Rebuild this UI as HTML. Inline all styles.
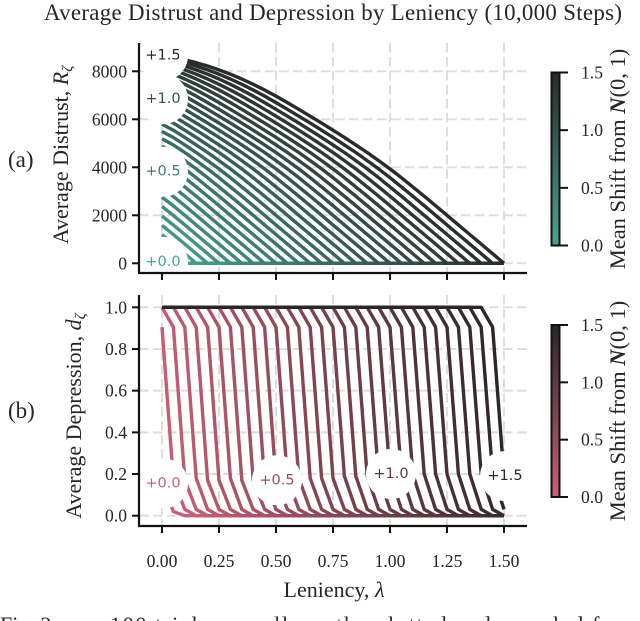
<!DOCTYPE html>
<html><head><meta charset="utf-8"><title>Average Distrust and Depression by Leniency</title>
<style>
html,body{margin:0;padding:0;background:#fff;width:640px;height:621px;overflow:hidden}
svg{display:block}
text{font-family:"Liberation Serif",serif;fill:#262626}
.tick{font-size:17.6px}
.lab{font-size:22px}
.curve-label{font-family:"DejaVu Sans",sans-serif;font-size:14.5px;text-anchor:middle;dominant-baseline:central}
</style></head><body>
<svg id="fig" xmlns="http://www.w3.org/2000/svg" width="640" height="621" viewBox="0 0 640 621">
<defs>
<linearGradient id="tealGrad" x1="0" y1="1" x2="0" y2="0"><stop offset="0" stop-color="#47a592"/><stop offset="1" stop-color="#2a2a2a"/></linearGradient>
<linearGradient id="pinkGrad" x1="0" y1="1" x2="0" y2="0"><stop offset="0" stop-color="#cb5f7a"/><stop offset="1" stop-color="#2b2627"/></linearGradient>
</defs>
<text x="333" y="20" text-anchor="middle" font-size="22.9" textLength="578" lengthAdjust="spacing">Average Distrust and Depression by Leniency (10,000 Steps)</text>
<text x="8" y="167" font-size="23">(a)</text>
<text x="8" y="418" font-size="23">(b)</text>
<g id="gridTop"></g>
<g id="gridBot"></g>
<g id="linesTop"></g>
<g id="linesBot"></g>
<g id="labelsTop"></g>
<g id="labelsBot"></g>
<g id="axesTop"></g>
<g id="axesBot"></g>
<text class="lab" transform="translate(68,155) rotate(-90)" text-anchor="middle">Average Distrust, <tspan font-style="italic">R</tspan><tspan font-style="italic" font-size="15" dy="4">ζ</tspan></text>
<text class="lab" transform="translate(81,416) rotate(-90)" text-anchor="middle">Average Depression, <tspan font-style="italic">d</tspan><tspan font-style="italic" font-size="15" dy="4">ζ</tspan></text>
<text class="lab" x="334" y="597" text-anchor="middle">Leniency, <tspan font-style="italic">λ</tspan></text>
<rect x="551.5" y="72.5" width="8" height="173" fill="url(#tealGrad)" stroke="#111" stroke-width="2"/>
<rect x="551.5" y="325" width="8" height="172" fill="url(#pinkGrad)" stroke="#111" stroke-width="2"/>
<g id="cbTicks"></g>
<text font-size="22.5" transform="translate(625,159) rotate(-90)" text-anchor="middle">Mean Shift from <tspan font-style="italic" font-weight="bold">N</tspan>(0, 1)</text>
<text font-size="22.5" transform="translate(625,411) rotate(-90)" text-anchor="middle">Mean Shift from <tspan font-style="italic" font-weight="bold">N</tspan>(0, 1)</text>
<text font-size="22" y="632"><tspan x="0">Fig. 2:</tspan><tspan x="110" textLength="530" lengthAdjust="spacing">100 trials overall are the plotted and sampled from</tspan></text>
</svg>
<script>
const lambdaGrid = [0,0.05,0.1,0.15,0.2,0.25,0.3,0.35,0.4,0.45,0.5,0.55,0.6,0.65,0.7,0.75,0.8,0.85,0.9,0.95,1,1.05,1.1,1.15,1.2,1.25,1.3,1.35,1.4,1.45,1.5];
const meanShifts = [0,0.05,0.1,0.15,0.2,0.25,0.3,0.35,0.4,0.45,0.5,0.55,0.6,0.65,0.7,0.75,0.8,0.85,0.9,0.95,1,1.05,1.1,1.15,1.2,1.25,1.3,1.35,1.4,1.45,1.5];
const xTickValues = [0,0.25,0.5,0.75,1,1.25,1.5];
const xTickLabels = ["0.00","0.25","0.50","0.75","1.00","1.25","1.50"];
const distrustTicks = [0,2000,4000,6000,8000];
const depressionTicks = [0,0.2,0.4,0.6,0.8,1];
const depressionTickLabels = ["0.0","0.2","0.4","0.6","0.8","1.0"];
const colorbarTicks = ["0.0","0.5","1.0","1.5"];
const labelShifts = [0,0.5,1,1.5];
const labelTexts = ["+0.0","+0.5","+1.0","+1.5"];
const distrustLabelLambda = [0,0,0,0];
const distrustLabelValue = [60,3815,6840,8650];
const depressionLabelLambda = [0,0.5,1,1.5];
const depressionLabelValue = [0.155,0.17,0.2,0.19];
const distrustRows = [
[0],
[400,0],
[790,400,0],
[1190,800,400,0],
[1585,1195,800,400,0],
[1975,1590,1200,800,400,0],
[2370,1990,1600,1200,800,400,0],
[2760,2390,2000,1600,1200,800,400,0],
[3150,2785,2400,2000,1600,1200,800,400,0],
[3520,3175,2795,2400,2000,1600,1200,800,400,0],
[3815,3550,3185,2795,2400,2000,1600,1200,800,400,0],
[4220,3920,3565,3185,2795,2400,2000,1600,1200,800,400,0],
[4550,4270,3935,3565,3185,2795,2400,2000,1600,1200,800,400,0],
[4880,4610,4280,3935,3565,3185,2795,2400,2000,1600,1200,800,400,0],
[5190,4930,4615,4280,3935,3565,3185,2795,2400,2000,1600,1200,800,400,0],
[5490,5240,4935,4615,4280,3935,3565,3185,2795,2400,2000,1600,1200,800,400,0],
[5790,5545,5245,4935,4615,4280,3935,3565,3185,2795,2400,2000,1600,1200,800,400,0],
[6080,5840,5545,5245,4935,4615,4280,3935,3565,3185,2795,2400,2000,1600,1200,800,400,0],
[6360,6130,5840,5545,5245,4935,4615,4280,3935,3565,3185,2795,2400,2000,1600,1200,800,400,0],
[6620,6415,6130,5840,5545,5245,4935,4615,4280,3935,3565,3185,2795,2400,2000,1600,1200,800,400,0],
[6840,6695,6415,6130,5840,5545,5245,4935,4615,4280,3935,3565,3185,2795,2400,2000,1600,1200,800,400,0],
[7180,6965,6695,6415,6130,5840,5545,5245,4935,4615,4280,3935,3565,3185,2795,2400,2000,1600,1200,800,400,0],
[7430,7220,6965,6695,6415,6130,5840,5545,5245,4935,4615,4280,3935,3565,3185,2795,2400,2000,1600,1200,800,400,0],
[7650,7460,7220,6965,6695,6415,6130,5840,5545,5245,4935,4615,4280,3935,3565,3185,2795,2400,2000,1600,1200,800,400,0],
[7850,7680,7460,7220,6965,6695,6415,6130,5840,5545,5245,4935,4615,4280,3935,3565,3185,2795,2400,2000,1600,1200,800,400,0],
[8030,7880,7680,7460,7220,6965,6695,6415,6130,5840,5545,5245,4935,4615,4280,3935,3565,3185,2795,2400,2000,1600,1200,800,400,0],
[8190,8060,7880,7680,7460,7220,6965,6695,6415,6130,5840,5545,5245,4935,4615,4280,3935,3565,3185,2795,2400,2000,1600,1200,800,400,0],
[8340,8220,8060,7880,7680,7460,7220,6965,6695,6415,6130,5840,5545,5245,4935,4615,4280,3935,3565,3185,2795,2400,2000,1600,1200,800,400,0],
[8470,8360,8220,8060,7880,7680,7460,7220,6965,6695,6415,6130,5840,5545,5245,4935,4615,4280,3935,3565,3185,2795,2400,2000,1600,1200,800,400,0],
[8570,8480,8360,8220,8060,7880,7680,7460,7220,6965,6695,6415,6130,5840,5545,5245,4935,4615,4280,3935,3565,3185,2795,2400,2000,1600,1200,800,400,0],
[8650,8575,8480,8360,8220,8060,7880,7680,7460,7220,6965,6695,6415,6130,5840,5545,5245,4935,4615,4280,3935,3565,3185,2795,2400,2000,1600,1200,800,400,0]
];
const depressionRows = [
[0.155,0.02,0],
[0.905,0.17,0.03,0],
[1,0.905,0.17,0.03,0],
[1,1,0.905,0.18,0.03,0],
[1,1,1,0.905,0.17,0.03,0],
[1,1,1,1,0.905,0.17,0.03,0],
[1,1,1,1,1,0.905,0.18,0.03,0],
[1,1,1,1,1,1,0.905,0.17,0.03,0],
[1,1,1,1,1,1,1,0.905,0.17,0.03,0],
[1,1,1,1,1,1,1,1,0.905,0.17,0.03,0],
[1,1,1,1,1,1,1,1,1,0.905,0.17,0.03,0],
[1,1,1,1,1,1,1,1,1,1,0.905,0.18,0.03,0],
[1,1,1,1,1,1,1,1,1,1,1,0.905,0.18,0.03,0],
[1,1,1,1,1,1,1,1,1,1,1,1,0.905,0.18,0.03,0],
[1,1,1,1,1,1,1,1,1,1,1,1,1,0.905,0.18,0.03,0],
[1,1,1,1,1,1,1,1,1,1,1,1,1,1,0.905,0.18,0.03,0],
[1,1,1,1,1,1,1,1,1,1,1,1,1,1,1,0.905,0.19,0.03,0],
[1,1,1,1,1,1,1,1,1,1,1,1,1,1,1,1,0.905,0.19,0.03,0],
[1,1,1,1,1,1,1,1,1,1,1,1,1,1,1,1,1,0.905,0.19,0.03,0],
[1,1,1,1,1,1,1,1,1,1,1,1,1,1,1,1,1,1,0.905,0.19,0.03,0],
[1,1,1,1,1,1,1,1,1,1,1,1,1,1,1,1,1,1,1,0.905,0.2,0.03,0],
[1,1,1,1,1,1,1,1,1,1,1,1,1,1,1,1,1,1,1,1,0.905,0.2,0.03,0],
[1,1,1,1,1,1,1,1,1,1,1,1,1,1,1,1,1,1,1,1,1,0.905,0.2,0.03,0],
[1,1,1,1,1,1,1,1,1,1,1,1,1,1,1,1,1,1,1,1,1,1,0.905,0.2,0.03,0],
[1,1,1,1,1,1,1,1,1,1,1,1,1,1,1,1,1,1,1,1,1,1,1,0.905,0.2,0.03,0],
[1,1,1,1,1,1,1,1,1,1,1,1,1,1,1,1,1,1,1,1,1,1,1,1,0.905,0.2,0.03,0],
[1,1,1,1,1,1,1,1,1,1,1,1,1,1,1,1,1,1,1,1,1,1,1,1,1,0.905,0.2,0.03,0],
[1,1,1,1,1,1,1,1,1,1,1,1,1,1,1,1,1,1,1,1,1,1,1,1,1,1,0.905,0.2,0.03,0],
[1,1,1,1,1,1,1,1,1,1,1,1,1,1,1,1,1,1,1,1,1,1,1,1,1,1,1,0.905,0.2,0.03],
[1,1,1,1,1,1,1,1,1,1,1,1,1,1,1,1,1,1,1,1,1,1,1,1,1,1,1,1,0.905,0.2,0.03],
[1,1,1,1,1,1,1,1,1,1,1,1,1,1,1,1,1,1,1,1,1,1,1,1,1,1,1,1,1,0.905,0.19]
];

const NS = 'http://www.w3.org/2000/svg';
function make(tag, attrs, parent, txt){
  const e = document.createElementNS(NS, tag);
  for (const k in attrs) e.setAttribute(k, attrs[k]);
  if (txt !== undefined) e.textContent = txt;
  parent.appendChild(e);
  return e;
}
const $ = id => document.getElementById(id);
const xScale = v => 162 + v * 228;
const yTop = v => 263.3 - v * 0.024;
const yBot = v => 515.7 - v * 208.4;
function mix(a, b, t){
  const c = a.map((v, i) => Math.round(v + (b[i] - v) * t));
  return 'rgb(' + c.join(',') + ')';
}
const teal = s => mix([71,165,146], [42,42,42], s / 1.5);
const pink = s => mix([203,95,122], [43,38,39], s / 1.5);
const frames = {
  top: {y0: 43, y1: 273},
  bot: {y0: 295, y1: 526}
};
function drawGrid(g, frame, yVals, y){
  xTickValues.forEach(v => {
    const l = make('line', {x1: xScale(v), x2: xScale(v), y1: frame.y0, y2: frame.y1, stroke: '#dedede', 'stroke-width': 2, 'stroke-dasharray': '9.5,4.5'}, g);
    
    
  });
  yVals.forEach(v => {
    const l = make('line', {x1: 139, x2: 527, y1: y(v), y2: y(v), stroke: '#dedede', 'stroke-width': 2, 'stroke-dasharray': '9.5,4.5'}, g);
    
    
  });
}
drawGrid($('gridTop'), frames.top, distrustTicks, yTop);
drawGrid($('gridBot'), frames.bot, depressionTicks, yBot);
function drawLines(g, rows, y, colour){
  rows.forEach((row, i) => {
    const d = lambdaGrid.map((l, j) => (j ? 'L' : 'M') + xScale(l).toFixed(1) + ' ' + y(row[j] === undefined ? 0 : row[j]).toFixed(1)).join('');
    const p = make('path', {d: d, fill: 'none', stroke: colour(meanShifts[i]), 'stroke-width': 3.4, 'stroke-linejoin': 'round'}, g);
    
    
  });
}
drawLines($('linesTop'), distrustRows, yTop, teal);
drawLines($('linesBot'), depressionRows, yBot, pink);
function drawLabels(g, lams, vals, y, colour){
  labelTexts.forEach((t, i) => {
    const cx = xScale(lams[i]) + 1, cy = y(vals[i]);
    const c = make('circle', {cx: cx, cy: cy, r: 25, fill: '#fff'}, g);
    
    
    const e = make('text', {x: cx, y: cy, class: 'curve-label', style: 'fill:' + colour(labelShifts[i])}, g, t);
    
    
  });
}
drawLabels($('labelsTop'), distrustLabelLambda, distrustLabelValue, yTop, teal);
drawLabels($('labelsBot'), depressionLabelLambda, depressionLabelValue, yBot, pink);
function drawAxes(g, frame, yVals, yLabels, y, showX){
  const sl = make('line', {x1: 139, x2: 139, y1: frame.y0, y2: frame.y1 + 1, stroke: '#111', 'stroke-width': 2.2}, g);
  
  
  const sb = make('line', {x1: 138, x2: 527, y1: frame.y1, y2: frame.y1, stroke: '#111', 'stroke-width': 2.2}, g);
  
  
  yVals.forEach((v, i) => {
    const t = make('line', {x1: 132, x2: 139, y1: y(v), y2: y(v), stroke: '#111', 'stroke-width': 2}, g);
    
    
    const e = make('text', {x: 127, y: y(v) + 6, 'text-anchor': 'end', class: 'tick'}, g, yLabels[i]);
    
    
  });
  xTickValues.forEach((v, i) => {
    const t = make('line', {x1: xScale(v), x2: xScale(v), y1: frame.y1, y2: frame.y1 + 7, stroke: '#111', 'stroke-width': 2}, g);
    
    
    if (showX) {
      const e = make('text', {x: xScale(v), y: 567, 'text-anchor': 'middle', class: 'tick'}, g, xTickLabels[i]);
      
      
    }
  });
}
drawAxes($('axesTop'), frames.top, distrustTicks, distrustTicks.map(String), yTop, false);
drawAxes($('axesBot'), frames.bot, depressionTicks, depressionTickLabels, yBot, true);
function drawColorbarTicks(yBottom, yTopEdge){
  colorbarTicks.forEach((t, i) => {
    const yy = yBottom - (yBottom - yTopEdge) * i / (colorbarTicks.length - 1);
    const l = make('line', {x1: 560, x2: 568, y1: yy, y2: yy, stroke: '#111', 'stroke-width': 2}, $('cbTicks'));
    
    
    const e = make('text', {x: 581, y: yy + 6, class: 'tick'}, $('cbTicks'), t);
    
    
  });
}
drawColorbarTicks(245.5, 72.5);
drawColorbarTicks(497, 325);
</script>
</body></html>
